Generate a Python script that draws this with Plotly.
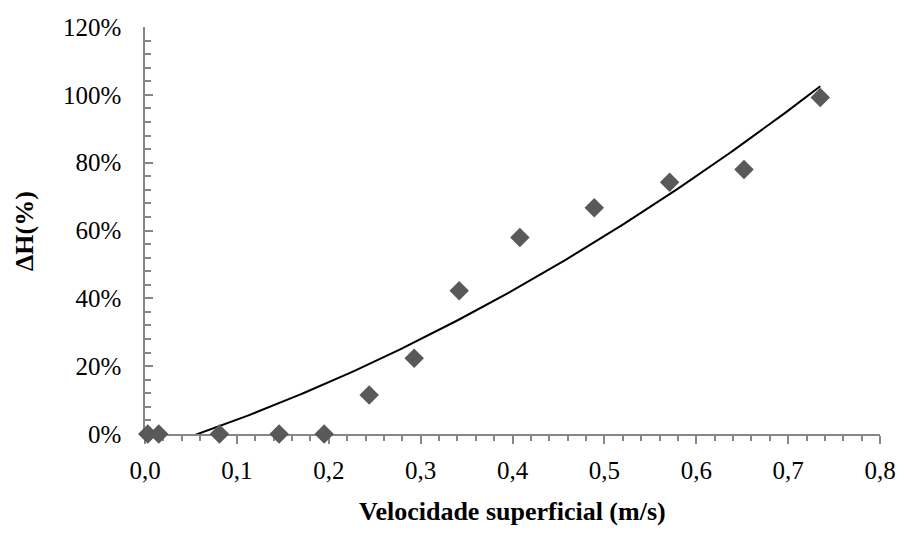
import numpy as np
import plotly.graph_objects as go

# Superficial velocity (m/s) and bed expansion ΔH (fraction)
velocidade = [0.003, 0.015, 0.081, 0.146, 0.195, 0.244, 0.293, 0.342, 0.408, 0.489, 0.571, 0.652, 0.735]
delta_h = [0.0, 0.0, 0.0, 0.0, 0.0, 0.115, 0.223, 0.422, 0.579, 0.667, 0.742, 0.780, 0.992]

x_ticks = [0.0, 0.1, 0.2, 0.3, 0.4, 0.5, 0.6, 0.7, 0.8]
y_ticks = [0.0, 0.2, 0.4, 0.6, 0.8, 1.0, 1.2]

# second-order polynomial trend line: ΔH = a·v² + b·v + c
trend_coef = [0.8304, 0.8547, -0.0517]
xs = np.linspace(min(velocidade), max(velocidade), 200)
ys = np.polyval(trend_coef, xs)

axis_color = "#868686"
font_family = "Liberation Serif, Times New Roman, serif"

fig = go.Figure()
fig.add_trace(go.Scatter(
    x=xs, y=ys, mode="lines",
    line=dict(color="black", width=2),
    hoverinfo="skip", showlegend=False,
))
fig.add_trace(go.Scatter(
    x=velocidade, y=delta_h, mode="markers",
    marker=dict(symbol="diamond", size=15, color="#595959", line=dict(width=0)),
    cliponaxis=False, showlegend=False,
))

fig.update_layout(
    width=908, height=540,
    margin=dict(l=145, r=19, t=27, b=106),
    paper_bgcolor="white", plot_bgcolor="white",
    separators=",.",
    font=dict(family=font_family, size=25, color="black"),
    xaxis=dict(
        range=[0, 0.8], tickvals=x_ticks, tickformat=".1f",
        showgrid=False, zeroline=False,
        showline=True, linecolor=axis_color, linewidth=1.5,
        ticks="outside", ticklen=8, tickwidth=1.5, tickcolor=axis_color,
        minor=dict(dtick=0.02, ticks="outside", ticklen=5, tickwidth=1.5, tickcolor=axis_color),
        layer="below traces",
        ticklabelstandoff=5,
        tickfont=dict(size=25),
    ),
    yaxis=dict(
        range=[0, 1.2], tickvals=y_ticks, tickformat=".0%",
        showgrid=False, zeroline=False,
        showline=True, linecolor=axis_color, linewidth=1.5,
        ticks="inside", ticklen=8, tickwidth=1.5, tickcolor=axis_color,
        minor=dict(dtick=0.04, ticks="inside", ticklen=6, tickwidth=1.5, tickcolor=axis_color),
        layer="below traces",
        ticklabelstandoff=17,
        tickfont=dict(size=25),
    ),
    annotations=[
        dict(text="<b>Velocidade superficial (m/s)</b>", x=0.5, y=0,
             xref="paper", yref="paper", showarrow=False,
             font=dict(size=26)),
        dict(text="<b>ΔH(%)</b>", x=0, y=0.5, textangle=-90,
             xref="paper", yref="paper", showarrow=False,
             font=dict(size=26)),
    ],
)

# place the axis titles in pixel terms relative to the plot area
plot_h = 540 - 27 - 106
plot_w = 908 - 145 - 19
fig.layout.annotations[0].update(y=-(511 - 434) / plot_h, yanchor="middle")
fig.layout.annotations[1].update(x=-(145 - 23) / plot_w, xanchor="center")

fig.write_html("out.html")
